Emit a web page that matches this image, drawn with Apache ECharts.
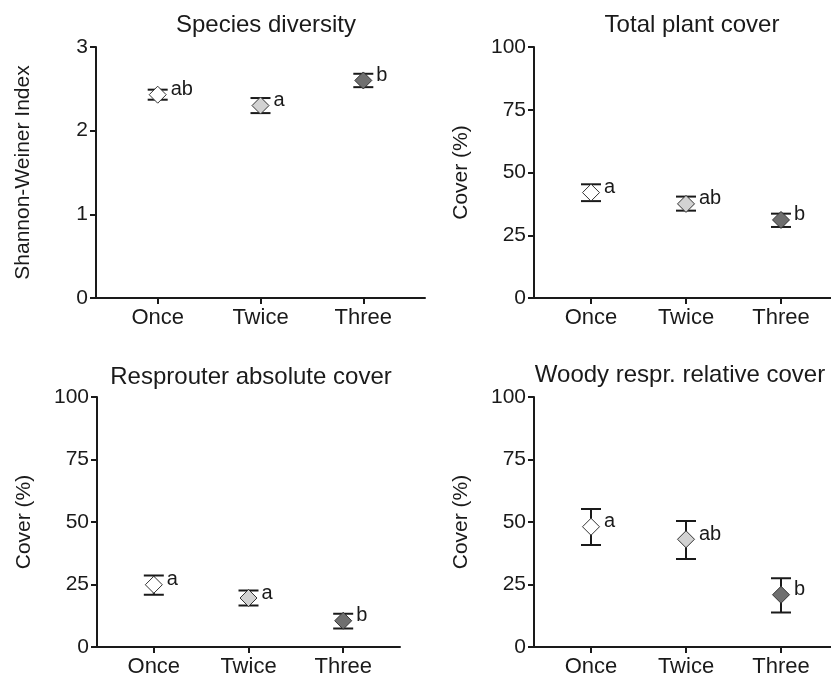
<!DOCTYPE html>
<html>
<head>
<meta charset="utf-8">
<script src="https://cdn.jsdelivr.net/npm/echarts@6/dist/echarts.min.js"></script>
<style>
html,body{margin:0;padding:0;background:#fff;}
#chart{width:831px;height:679px;}
</style>
</head>
<body>
<div id="chart"></div>
<script>
// ---- data ----
const categories = ['Once', 'Twice', 'Three'];
const panelTitles = ['Species diversity', 'Total plant cover', 'Resprouter absolute cover', 'Woody respr. relative cover'];
const yAxisNames = ['Shannon-Weiner Index', 'Cover (%)', 'Cover (%)', 'Cover (%)'];
const yTicksDiversity = [0, 1, 2, 3];
const yTicksCover = [0, 25, 50, 75, 100];

const diversityMean = [2.43, 2.30, 2.60];
const diversityLow  = [2.37, 2.21, 2.52];
const diversityHigh = [2.49, 2.39, 2.68];
const diversityLetters = ['ab', 'a', 'b'];

const totalCoverMean = [42.0, 37.5, 31.1];
const totalCoverLow  = [38.6, 34.8, 28.3];
const totalCoverHigh = [45.3, 40.4, 33.6];
const totalCoverLetters = ['a', 'ab', 'b'];

const resprAbsMean = [24.9, 19.6, 10.5];
const resprAbsLow  = [20.9, 16.6, 7.4];
const resprAbsHigh = [28.6, 22.6, 13.3];
const resprAbsLetters = ['a', 'a', 'b'];

const woodyRelMean = [48.1, 43.1, 20.9];
const woodyRelLow  = [40.8, 35.2, 13.8];
const woodyRelHigh = [55.2, 50.4, 27.5];
const woodyRelLetters = ['a', 'ab', 'b'];

// ---- styling ----
const fills = ['#ffffff', '#d2d2d2', '#6f6f6f'];
const txt = '#1a1a1a';
const FONT = 'Liberation Sans, Arial, sans-serif';

const panels = [
  {mean: diversityMean, low: diversityLow, high: diversityHigh, letters: diversityLetters, ticks: yTicksDiversity},
  {mean: totalCoverMean, low: totalCoverLow, high: totalCoverHigh, letters: totalCoverLetters, ticks: yTicksCover},
  {mean: resprAbsMean, low: resprAbsLow, high: resprAbsHigh, letters: resprAbsLetters, ticks: yTicksCover},
  {mean: woodyRelMean, low: woodyRelLow, high: woodyRelHigh, letters: woodyRelLetters, ticks: yTicksCover}
];

const grids = [
  {left: 96, top: 47, width: 329, height: 251},
  {left: 534, top: 47, width: 304, height: 251},
  {left: 97, top: 397, width: 303, height: 250},
  {left: 534, top: 397, width: 304, height: 250}
];

const chart = echarts.init(document.getElementById('chart'), null, {renderer: 'canvas'});

const option = {
  animation: false,
  backgroundColor: '#ffffff',
  textStyle: {fontFamily: FONT, color: txt},
  title: [],
  grid: [],
  xAxis: [],
  yAxis: [],
  series: []
};

const titlePos = [
  {x: 261, y: 8}, {x: 687, y: 8}, {x: 246, y: 360}, {x: 675, y: 358}
];

panels.forEach((p, i) => {
  const g = grids[i];
  option.grid.push(Object.assign({containLabel: false, outerBoundsMode: 'none'}, g));
  option.title.push({
    text: panelTitles[i],
    left: titlePos[i].x, top: titlePos[i].y,
    textAlign: 'center',
    textStyle: {fontFamily: FONT, fontSize: 24, fontWeight: 'normal', color: txt}
  });
  option.xAxis.push({
    type: 'value', gridIndex: i, min: 0.4, max: 3.6,
    splitLine: {show: false},
    axisLine: {show: true, onZero: false, lineStyle: {color: txt, width: 2}},
    axisTick: {show: true, customValues: [1, 2, 3], length: 6, lineStyle: {color: txt, width: 2}},
    axisLabel: {
      show: true, customValues: [1, 2, 3], margin: 9,
      fontFamily: FONT, fontSize: 22, color: txt,
      formatter: v => categories[Math.round(v) - 1] || ''
    }
  });
  const maxV = p.ticks[p.ticks.length - 1];
  option.yAxis.push({
    type: 'value', gridIndex: i, min: 0, max: maxV, interval: p.ticks[1] - p.ticks[0],
    name: yAxisNames[i], nameLocation: 'middle', nameGap: 62,
    nameTextStyle: {fontFamily: FONT, fontSize: 21, color: txt},
    splitLine: {show: false},
    axisLine: {show: true, lineStyle: {color: txt, width: 2}},
    axisTick: {show: true, length: 6, lineStyle: {color: txt, width: 2}},
    axisLabel: {margin: 8, fontFamily: FONT, fontSize: 21, color: txt}
  });
  // error bars
  const errData = categories.map((c, k) => [k + 1, p.low[k], p.high[k]]);
  option.series.push({
    type: 'custom', xAxisIndex: i, yAxisIndex: i, z: 2,
    data: errData,
    renderItem: (params, api) => {
      const x = api.value(0);
      const lo = api.coord([x, api.value(1)]);
      const hi = api.coord([x, api.value(2)]);
      const hw = 10;
      const st = {stroke: '#1a1a1a', lineWidth: 2};
      return {type: 'group', children: [
        {type: 'line', shape: {x1: lo[0], y1: lo[1], x2: hi[0], y2: hi[1]}, style: st},
        {type: 'line', shape: {x1: lo[0] - hw, y1: lo[1], x2: lo[0] + hw, y2: lo[1]}, style: st},
        {type: 'line', shape: {x1: hi[0] - hw, y1: hi[1], x2: hi[0] + hw, y2: hi[1]}, style: st}
      ]};
    }
  });
  // mean markers
  option.series.push({
    type: 'scatter', xAxisIndex: i, yAxisIndex: i, z: 5,
    symbol: 'diamond', symbolSize: [17, 17],
    data: categories.map((c, k) => ({
      value: [k + 1, p.mean[k]],
      itemStyle: {color: fills[k], borderColor: '#333', borderWidth: 1, opacity: 1},
      label: {
        show: true, formatter: p.letters[k], position: 'right', distance: 4,
        offset: [0, -5],
        fontFamily: FONT, fontSize: 20, color: txt
      }
    }))
  });
});

chart.setOption(option);
</script>
</body>
</html>
